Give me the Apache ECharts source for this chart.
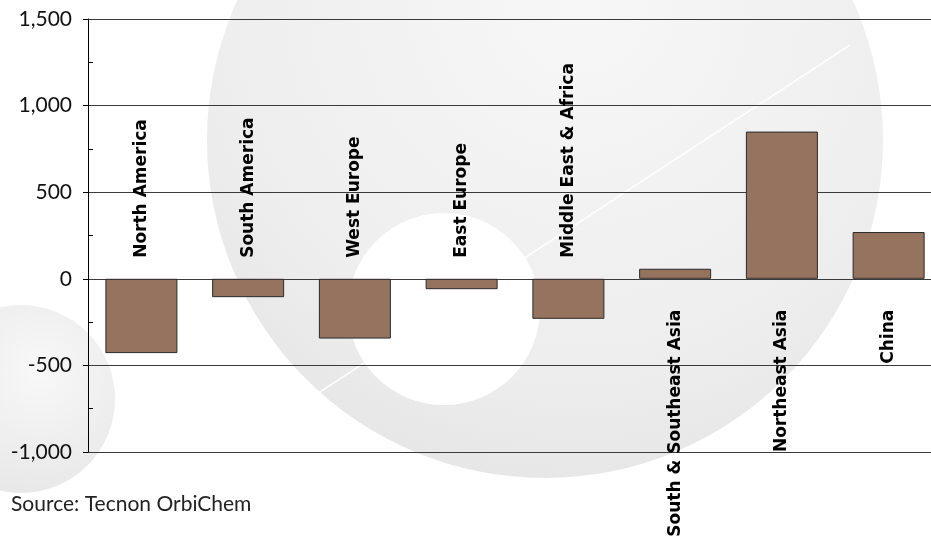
<!DOCTYPE html>
<html>
<head>
<meta charset="utf-8">
<script src="https://cdn.jsdelivr.net/npm/echarts@6/dist/echarts.min.js"></script>
<style>html,body{margin:0;padding:0;background:#fff;}#c{width:931px;height:537px;}</style>
</head>
<body>
<div id="c"></div>
<script>
const categories = ['North America','South America','West Europe','East Europe','Middle East & Africa','South & Southeast Asia','Northeast Asia','China'];
const values = [-429, -106, -345, -60, -231, 58, 850, 270];
const yTicks = { min: -1000, max: 1500, interval: 500 };
const sourceText = 'Source: Tecnon OrbiChem';

const chart = echarts.init(document.getElementById('c'), null, { renderer: 'canvas' });
const labelFont = { fontFamily: 'DejaVu Sans', fontWeight: 'bold', fontSize: 17, color: '#000' };
function labelFor(v, name) {
  const neg = v < 0;
  return Object.assign({
    show: true, formatter: name, rotate: 90,
    position: neg ? 'top' : 'bottom',
    distance: neg ? 21 : 31,
    align: neg ? 'left' : 'right', verticalAlign: 'middle'
  }, labelFont);
}
const barData = values.map((v, i) => ({ value: v, label: labelFor(v, categories[i]) }));

const option = {
  animation: false,
  backgroundColor: '#fff',
  graphic: [
    { type: 'circle', z: -10, silent: true, shape: { cx: 21, cy: 399, r: 94 },
      style: { fill: new echarts.graphic.RadialGradient(0.6, 0.35, 0.75, [{offset: 0, color: '#f8f8f8'}, {offset: 1, color: '#e6e6e6'}]) } },
    { type: 'circle', z: -10, silent: true, shape: { cx: 545, cy: 140, r: 338 },
      style: { fill: new echarts.graphic.RadialGradient(0.55, 0.3, 0.75, [{offset: 0, color: '#f7f7f7'}, {offset: 0.7, color: '#eeeeee'}, {offset: 1, color: '#e5e5e5'}]) } },
    { type: 'circle', z: -9, silent: true, shape: { cx: 444, cy: 309, r: 96 }, style: { fill: '#ffffff' } },
    { type: 'line', z: -8, silent: true, shape: { x1: 300, y1: 405, x2: 850, y2: 45 }, style: { stroke: 'rgba(255,255,255,0.85)', lineWidth: 1.5 } },
    { type: 'text', left: 11, top: 494, style: { text: sourceText, fontFamily: 'Lato', fontSize: 21, fill: '#222' } }
  ],
  grid: { left: 88, top: 19, width: 854, height: 433, containLabel: false, outerBoundsMode: 'none' },
  xAxis: {
    type: 'category', data: categories,
    axisLine: { show: false }, axisTick: { show: false }, axisLabel: { show: false }
  },
  yAxis: {
    type: 'value', min: yTicks.min, max: yTicks.max, interval: yTicks.interval,
    axisLine: { show: true, onZero: false, lineStyle: { color: '#000', width: 1 } },
    axisTick: { show: true, length: 5, lineStyle: { color: '#000' } },
    minorTick: { show: true, splitNumber: 2, length: -5, lineStyle: { color: '#000' } },
    splitLine: { show: true, lineStyle: { color: '#3a3a3a', width: 1 } },
    axisLabel: { margin: 16, fontFamily: 'Lato', fontSize: 21, color: '#111' }
  },
  series: [{
    type: 'bar', data: barData, barWidth: 72,
    labelLayout: { hideOverlap: false },
    itemStyle: { color: '#95735e', borderColor: '#2a2a2a', borderWidth: 1 }
  }]
};
chart.setOption(option);
</script>
</body>
</html>
